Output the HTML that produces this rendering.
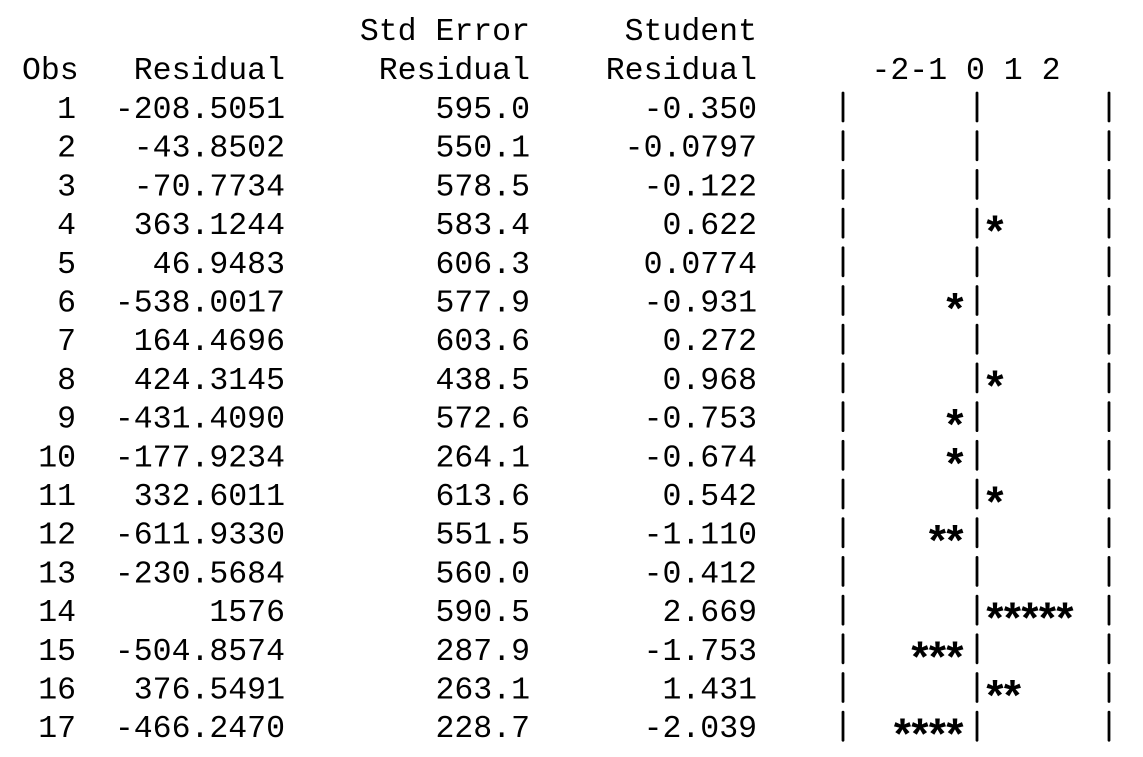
<!DOCTYPE html>
<html><head><meta charset="utf-8"><style>
html,body{margin:0;padding:0;background:#fff;}
svg{display:block;}
text{font-family:"Liberation Mono","DejaVu Sans Mono",monospace;font-size:31.5px;fill:#000;}
text.star{font-size:44px;font-weight:bold;}
</style></head><body>
<svg id="chart" width="1143" height="757" xmlns="http://www.w3.org/2000/svg">
<g>
<text x="530" y="40" text-anchor="end">Std Error</text>
<text x="757" y="40" text-anchor="end">Student</text>
<text x="22" y="79">Obs</text>
<text x="285" y="79" text-anchor="end">Residual</text>
<text x="530" y="79" text-anchor="end">Residual</text>
<text x="757" y="79" text-anchor="end">Residual</text>
<text x="966" y="79" text-anchor="middle">-2-1 0 1 2</text>
</g>
<g id="rows"></g>
</svg>
<script>
const obs = ["1","2","3","4","5","6","7","8","9","10","11","12","13","14","15","16","17"];
const residuals = ["-208.5051","-43.8502","-70.7734","363.1244","46.9483","-538.0017","164.4696","424.3145","-431.4090","-177.9234","332.6011","-611.9330","-230.5684","1576","-504.8574","376.5491","-466.2470"];
const stdErrors = ["595.0","550.1","578.5","583.4","606.3","577.9","603.6","438.5","572.6","264.1","613.6","551.5","560.0","590.5","287.9","263.1","228.7"];
const studentLabels = ["-0.350","-0.0797","-0.122","0.622","0.0774","-0.931","0.272","0.968","-0.753","-0.674","0.542","-1.110","-0.412","2.669","-1.753","1.431","-2.039"];
const studentValues = [-0.350,-0.0797,-0.122,0.622,0.0774,-0.931,0.272,0.968,-0.753,-0.674,0.542,-1.110,-0.412,2.669,-1.753,1.431,-2.039];

const NS = "http://www.w3.org/2000/svg";
const g = document.getElementById("rows");
const rowY = i => 118 + i * 38.7;
const zeroX = 977, starStep = 17.5;
function t(x, y, s, anchor, name, cls) {
  const e = document.createElementNS(NS, "text");
  e.setAttribute("x", x); e.setAttribute("y", y);
  e.setAttribute("text-anchor", anchor);
  if (cls) e.setAttribute("class", cls);
  e.textContent = s;
  
  
  g.appendChild(e);
}
function bar(x, i, name) {
  const l = document.createElementNS(NS, "line");
  const c = rowY(i) - 11;
  l.setAttribute("x1", x); l.setAttribute("x2", x);
  l.setAttribute("y1", c - 14); l.setAttribute("y2", c + 14);
  l.setAttribute("stroke", "#000"); l.setAttribute("stroke-width", "2.8");
  l.setAttribute("stroke-linecap", "round");
  
  
  g.appendChild(l);
}
obs.forEach((o, i) => {
  const y = rowY(i);
  t(76, y, o, "end", "obs-" + o);
  t(285, y, residuals[i], "end", "residual-" + o);
  t(530, y, stdErrors[i], "end", "std-error-" + o);
  t(757, y, studentLabels[i], "end", "student-residual-" + o);
  bar(843, i, "bar-left-" + o);
  bar(zeroX, i, "bar-zero-" + o);
  bar(1109, i, "bar-right-" + o);
  const v = studentValues[i];
  const n = Math.min(5, Math.floor(Math.abs(v) * 2));
  for (let k = 0; k < n; k++) {
    const cx = v < 0 ? zeroX - 22 - k * starStep : zeroX + 18 + k * starStep;
    t(cx, y + 13, "*", "middle", "star-" + o + "-" + (k + 1), "star");
  }
});
</script>
</body></html>
